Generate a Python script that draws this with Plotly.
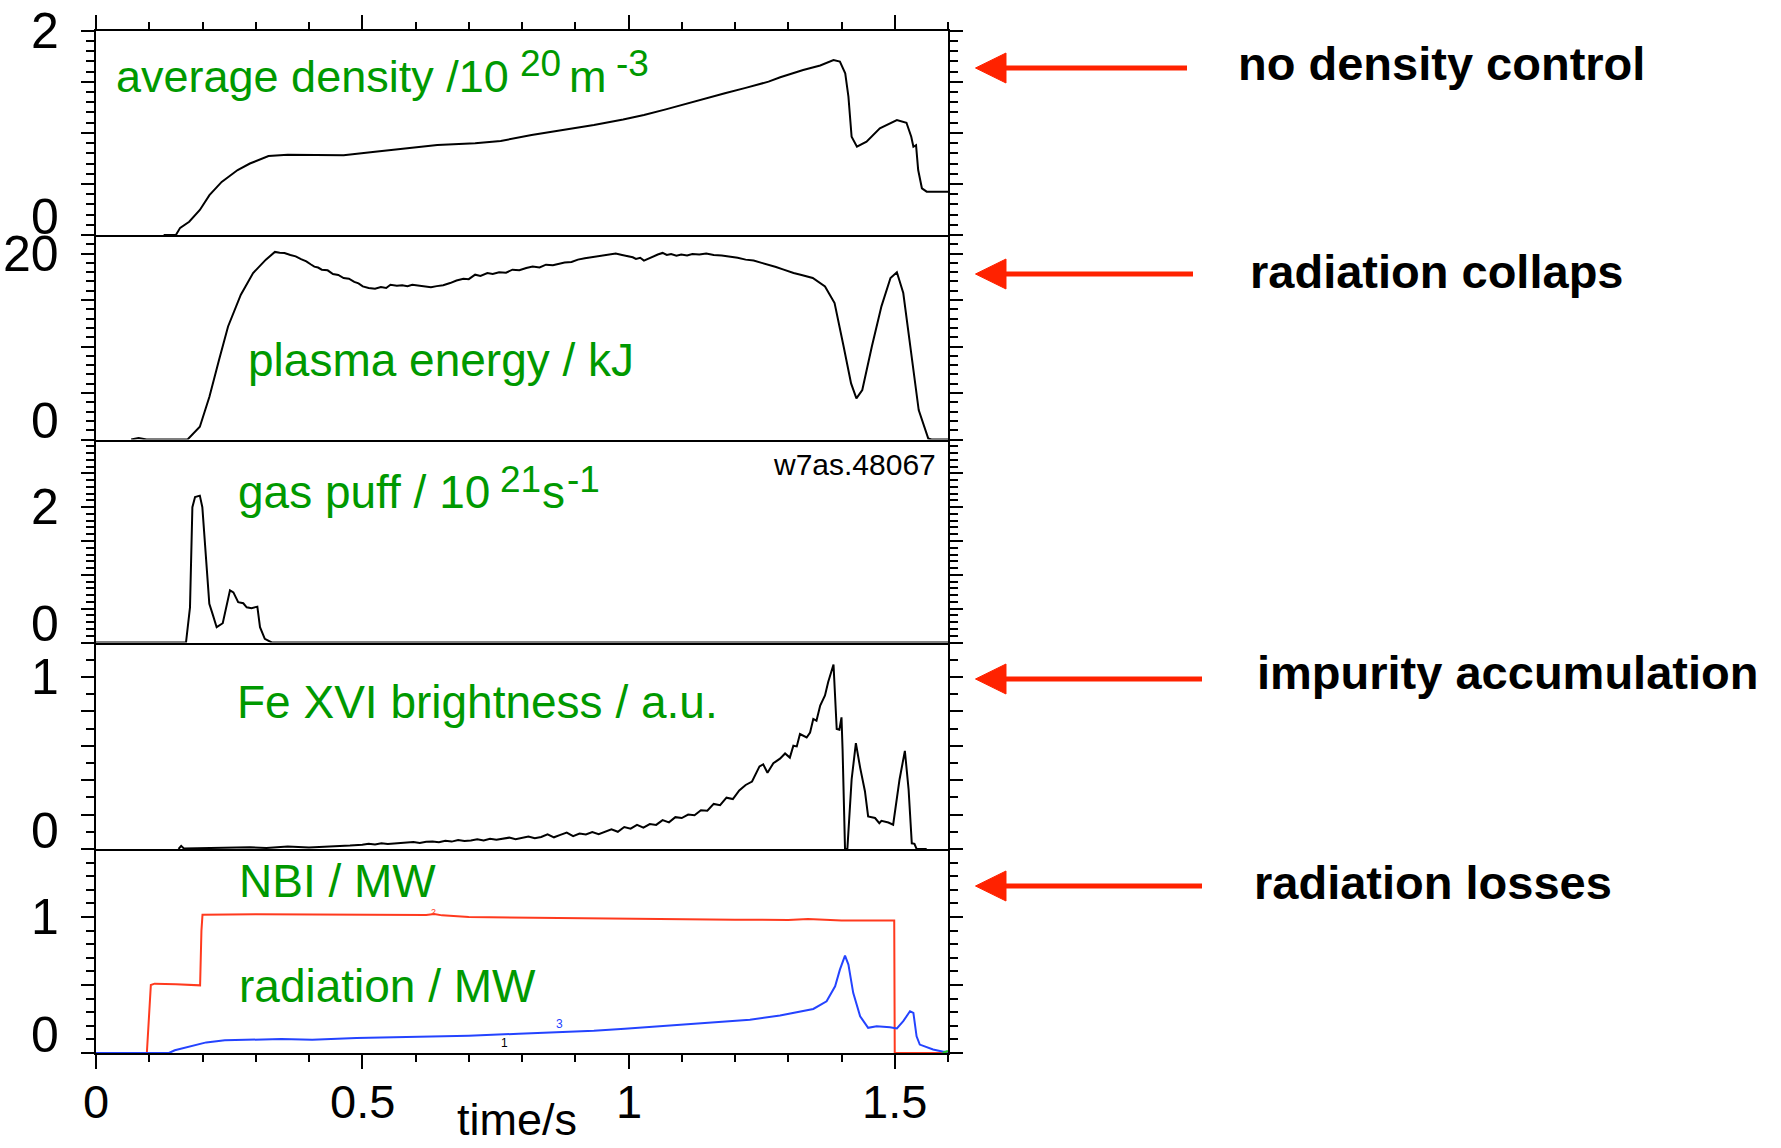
import plotly.graph_objects as go

# ---------------- figure size (px) ----------------
W, H = 1781, 1148
FONT = "Liberation Sans, Arial, Helvetica, sans-serif"
GREEN = "#009900"
ARROW_RED = "#ff2200"

# ---------------- shared time axis (s) ----------------
T_RANGE = [0.0, 1.6]
t_tick_vals = [0, 0.5, 1, 1.5]
t_tick_text = ["0", "0.5", "1", "1.5"]

# ---------------- average density / 1e20 m^-3 ----------------
dens_t = [0.127, 0.150, 0.158, 0.166, 0.175, 0.195, 0.213, 0.236, 0.266, 0.289,
          0.324, 0.360, 0.406, 0.465, 0.524, 0.580, 0.641, 0.712, 0.760, 0.818,
          0.880, 0.935, 0.990, 1.029, 1.070, 1.111, 1.150, 1.181, 1.220, 1.263,
          1.285, 1.300, 1.328, 1.360, 1.385, 1.397, 1.407, 1.413, 1.419, 1.429,
          1.447, 1.472, 1.504, 1.522, 1.531, 1.535, 1.540, 1.544, 1.551, 1.560,
          1.600]
dens_v = [0.0, 0.0, 0.07, 0.10, 0.13, 0.245, 0.39, 0.52, 0.636, 0.70,
          0.773, 0.785, 0.783, 0.78, 0.816, 0.85, 0.88, 0.897, 0.92, 0.979,
          1.03, 1.077, 1.13, 1.174, 1.23, 1.289, 1.35, 1.387, 1.44, 1.501,
          1.544, 1.57, 1.615, 1.66, 1.713, 1.697, 1.583, 1.354, 0.962, 0.864,
          0.913, 1.044, 1.126, 1.099, 0.962, 0.864, 0.88, 0.636, 0.457, 0.424,
          0.424]

# ---------------- plasma energy / kJ ----------------
wp_t = [0.066, 0.080, 0.095, 0.110, 0.172, 0.195, 0.213, 0.231, 0.248, 0.272,
        0.295, 0.319, 0.336, 0.345, 0.354, 0.365, 0.375, 0.385, 0.395, 0.403,
        0.410, 0.417, 0.424, 0.435, 0.445, 0.455, 0.465, 0.475, 0.485, 0.493,
        0.501, 0.512, 0.524, 0.535, 0.545, 0.553, 0.565, 0.575, 0.585, 0.594,
        0.605, 0.617, 0.629, 0.640, 0.652, 0.665, 0.677, 0.690, 0.700, 0.712,
        0.722, 0.735, 0.745, 0.757, 0.770, 0.782, 0.795, 0.808, 0.820, 0.833,
        0.845, 0.858, 0.870, 0.880, 0.893, 0.905, 0.918, 0.930, 0.945, 0.960,
        0.976, 0.988, 0.999, 1.008, 1.014, 1.022, 1.029, 1.037, 1.045, 1.055,
        1.064, 1.072, 1.080, 1.090, 1.099, 1.110, 1.120, 1.133, 1.146, 1.160,
        1.175, 1.190, 1.205, 1.220, 1.235, 1.250, 1.263, 1.277, 1.290, 1.300,
        1.310, 1.325, 1.346, 1.369, 1.387, 1.404, 1.418, 1.428, 1.439, 1.457,
        1.475, 1.492, 1.504, 1.516, 1.531, 1.545, 1.563, 1.569, 1.600]
wp_v = [0.0, 0.15, 0.0, 0.0, 0.0, 1.37, 4.6, 8.56, 12.16, 15.58,
        17.9, 19.35, 20.18, 20.1, 20.07, 19.85, 19.7, 19.4, 19.17, 18.85,
        18.6, 18.5, 18.27, 18.2, 17.8, 17.7, 17.37, 17.3, 16.95, 16.8,
        16.47, 16.3, 16.22, 16.4, 16.3, 16.65, 16.55, 16.6, 16.5, 16.65,
        16.55, 16.45, 16.37, 16.5, 16.6, 16.83, 17.1, 17.3, 17.25, 17.73,
        17.6, 17.9, 17.8, 18.0, 17.95, 18.27, 18.2, 18.45, 18.6, 18.5,
        18.81, 18.75, 18.95, 19.05, 19.1, 19.35, 19.5, 19.6, 19.75, 19.8,
        20.0, 19.85, 19.71, 19.6, 19.42, 19.55, 19.24, 19.45, 19.7, 19.9,
        20.07, 19.85, 19.95, 19.78, 19.9, 19.8, 19.95, 19.9, 20.0, 19.85,
        19.8, 19.7, 19.55, 19.35, 19.25, 19.0, 18.81, 18.55, 18.3, 18.1,
        17.91, 17.7, 17.37, 16.47, 14.68, 10.0, 6.04, 4.42, 5.32, 10.0,
        14.32, 17.37, 17.99, 15.76, 9.28, 3.17, 0.1, 0.0, 0.0]

# ---------------- gas puff / 1e21 s^-1 ----------------
gas_t = [0.0, 0.169, 0.1765, 0.181, 0.186, 0.195, 0.1997, 0.2066, 0.2128, 0.219,
         0.2266, 0.238, 0.2516, 0.258, 0.267, 0.2766, 0.283, 0.292, 0.303, 0.308,
         0.317, 0.330, 1.6]
gas_v = [0.0, 0.0, 0.52, 2.0, 2.15, 2.17, 2.0, 1.26, 0.57, 0.42,
         0.226, 0.285, 0.77, 0.74, 0.595, 0.58, 0.52, 0.507, 0.53, 0.226,
         0.055, 0.0, 0.0]

# ---------------- Fe XVI brightness / a.u. ----------------
fe_t = [0.155, 0.160, 0.165, 0.200, 0.250, 0.289, 0.320, 0.360, 0.400, 0.430,
        0.460, 0.477, 0.500, 0.512, 0.524, 0.536, 0.548, 0.560, 0.572, 0.584,
        0.596, 0.608, 0.620, 0.632, 0.644, 0.656, 0.668, 0.680, 0.692, 0.704,
        0.716, 0.728, 0.740, 0.752, 0.764, 0.776, 0.788, 0.800, 0.812, 0.824,
        0.836, 0.848, 0.860, 0.872, 0.884, 0.896, 0.908, 0.920, 0.932, 0.944,
        0.956, 0.968, 0.980, 0.992, 1.004, 1.016, 1.028, 1.040, 1.052, 1.064,
        1.076, 1.088, 1.100, 1.112, 1.124, 1.136, 1.148, 1.160, 1.172, 1.184,
        1.196, 1.208, 1.220, 1.232, 1.246, 1.253, 1.261, 1.272, 1.2845, 1.294,
        1.303, 1.3096, 1.316, 1.322, 1.3346, 1.341, 1.347, 1.353, 1.360, 1.369,
        1.375, 1.385, 1.391, 1.396, 1.400, 1.402, 1.4066, 1.411, 1.419, 1.427,
        1.435, 1.444, 1.450, 1.463, 1.471, 1.475, 1.488, 1.497, 1.509, 1.519,
        1.526, 1.532, 1.537, 1.541, 1.560]
fe_v = [0.0, 0.018, 0.003, 0.004, 0.006, 0.010, 0.006, 0.014, 0.009, 0.012,
        0.016, 0.020, 0.025, 0.030, 0.026, 0.033, 0.029, 0.031, 0.036, 0.034,
        0.040, 0.035, 0.042, 0.044, 0.039, 0.048, 0.043, 0.052, 0.046, 0.049,
        0.056, 0.050, 0.060, 0.054, 0.058, 0.066, 0.057, 0.063, 0.072, 0.062,
        0.070, 0.085, 0.068, 0.082, 0.095, 0.075, 0.090, 0.084, 0.098, 0.086,
        0.102, 0.115, 0.100, 0.128, 0.118, 0.140, 0.124, 0.145, 0.140, 0.168,
        0.155, 0.185, 0.180, 0.200, 0.196, 0.225, 0.222, 0.262, 0.255, 0.298,
        0.290, 0.340, 0.372, 0.392, 0.480, 0.492, 0.443, 0.498, 0.525, 0.555,
        0.531, 0.600, 0.596, 0.668, 0.648, 0.677, 0.756, 0.746, 0.834, 0.892,
        0.971, 1.072, 0.697, 0.693, 0.765, 0.580, 0.0, 0.0, 0.404, 0.615,
        0.473, 0.336, 0.189, 0.180, 0.150, 0.164, 0.154, 0.141, 0.404, 0.570,
        0.346, 0.033, 0.030, 0.0, 0.0]

# ---------------- NBI heating power / MW ----------------
nbi_t = [0.0, 0.0955, 0.103, 0.110, 0.150, 0.1955, 0.198, 0.200, 0.300, 0.400,
         0.500, 0.620, 0.635, 0.650, 0.700, 0.800, 0.900, 1.000, 1.100, 1.200,
         1.300, 1.337, 1.400, 1.499, 1.500, 1.600]
nbi_v = [0.0, 0.0, 0.50, 0.51, 0.505, 0.4975, 0.90, 1.017, 1.02, 1.02,
         1.02, 1.015, 1.022, 1.012, 1.0, 0.995, 0.99, 0.985, 0.982, 0.98,
         0.978, 0.985, 0.975, 0.975, 0.0, 0.0]

# ---------------- radiated power / MW ----------------
rad_t = [0.0, 0.137, 0.148, 0.172, 0.207, 0.242, 0.289, 0.348, 0.406, 0.489,
         0.583, 0.700, 0.794, 0.876, 0.935, 0.993, 1.052, 1.111, 1.169, 1.228,
         1.2845, 1.3096, 1.347, 1.372, 1.388, 1.397, 1.4066, 1.413, 1.422, 1.435,
         1.450, 1.466, 1.491, 1.504, 1.516, 1.5286, 1.535, 1.541, 1.547, 1.572,
         1.591, 1.600]
rad_v = [0.0, 0.0, 0.02, 0.044, 0.078, 0.093, 0.098, 0.103, 0.098, 0.11,
         0.118, 0.127, 0.142, 0.152, 0.164, 0.179, 0.196, 0.216, 0.228, 0.245,
         0.275, 0.295, 0.324, 0.38, 0.49, 0.613, 0.716, 0.65, 0.442, 0.27,
         0.185, 0.197, 0.19, 0.18, 0.234, 0.307, 0.295, 0.123, 0.062, 0.026,
         0.01, 0.01]

# short trailing segment of the third channel
tail_t = [1.590, 1.600]
tail_v = [0.0, 0.015]

# ---------------- per-panel axis settings ----------------
y_ranges = [[0, 2], [0, 22], [0, 3], [0, 1.2], [0, 1.5]]
y_major = [0.5, 5, 0.5, 0.2, 0.5]
y_minor = [0.1, 1, 0.1, 0.1, 0.1]
y_top_label = [(2, "2"), (20, "20"), (2, "2"), (1, "1"), (1, "1")]

# panel titles: (text, left px, baseline px, font size)
title_parts = [
    ("average density /10", 115, 93, 45),
    ("20", 519, 77, 37),
    ("m", 568, 93, 45),
    ("-3", 615, 77, 37),
    ("plasma energy / kJ", 247, 377, 46),
    ("gas puff / 10", 237, 509, 46),
    ("21", 499, 493, 37),
    ("s", 541, 509, 46),
    ("-1", 566, 493, 37),
    ("Fe XVI brightness / a.u.", 236, 719, 46),
    ("NBI / MW", 238, 898, 46),
    ("radiation / MW", 238, 1003, 46),
]

side_notes = ["no density control", "radiation collaps",
              "impurity accumulation", "radiation losses"]

# ---------------- pixel layout helpers ----------------
PLOT_L, PLOT_R = 96, 948
EDGES = [30.7, 235, 439.5, 642.5, 849, 1053]


def px(x):
    return x / W


def py(y):
    return 1 - y / H


fig = go.Figure()

ax_names = ["", "2", "3", "4", "5"]
series = [
    (0, dens_t, dens_v, "black"),
    (1, wp_t, wp_v, "black"),
    (2, gas_t, gas_v, "black"),
    (3, fe_t, fe_v, "black"),
    (4, nbi_t, nbi_v, "#ff3a1e"),
    (4, rad_t, rad_v, "#2443ff"),
    (4, tail_t, tail_v, "#22cc22"),
]
for k, t, v, c in series:
    n = ax_names[k]
    fig.add_trace(go.Scatter(x=t, y=v, mode="lines", xaxis="x" + n, yaxis="y" + n,
                             line=dict(color=c, width=2), hoverinfo="skip"))

tick_style = dict(tickcolor="black", tickwidth=2)
layout_axes = {}
for i in range(5):
    n = ax_names[i]
    xa = dict(domain=[px(PLOT_L), px(PLOT_R)], range=T_RANGE, anchor="y" + n,
              showline=True, linecolor="black", linewidth=2, showgrid=False,
              zeroline=False, showticklabels=False, ticks="")
    if i in (0, 4):
        xa.update(ticks="outside", tickmode="linear", tick0=0, dtick=0.5, ticklen=14,
                  minor=dict(ticks="outside", tickmode="linear", tick0=0, dtick=0.1,
                             ticklen=7, **tick_style), **tick_style)
    if i == 0:
        xa.update(side="top", mirror=True)
    ya = dict(domain=[py(EDGES[i + 1]), py(EDGES[i])], range=y_ranges[i],
              anchor="x" + n, showline=True, mirror="ticks", linecolor="black",
              linewidth=2, ticks="outside", tickmode="linear", tick0=0,
              dtick=y_major[i], ticklen=13,
              minor=dict(ticks="outside", tickmode="linear", tick0=0, dtick=y_minor[i],
                         ticklen=8, **tick_style),
              showticklabels=False, showgrid=False, zeroline=False, **tick_style)
    layout_axes["xaxis" + n] = xa
    layout_axes["yaxis" + n] = ya

ann = []
# y tick labels
for i, (val, txt) in enumerate(y_top_label):
    n = ax_names[i]
    ann.append(dict(x=px(60), xref="paper", y=val, yref="y" + n, text=txt,
                    xanchor="right", yanchor="middle", showarrow=False, borderpad=0,
                    font=dict(family=FONT, size=50, color="black")))
    ann.append(dict(x=px(60), xref="paper", y=0, yref="y" + n, text="0",
                    xanchor="right", yanchor="bottom", yshift=-10.5, showarrow=False,
                    borderpad=0, font=dict(family=FONT, size=50, color="black")))
# time tick labels
for val, txt in zip(t_tick_vals, t_tick_text):
    ann.append(dict(x=val, xref="x5", y=py(1073), yref="paper", text=txt,
                    xanchor="center", yanchor="top", showarrow=False,
                    font=dict(family=FONT, size=47, color="black")))
ann.append(dict(x=0.79, xref="x5", y=py(1147), yref="paper", text="time/s",
                xanchor="center", yanchor="bottom", showarrow=False,
                font=dict(family=FONT, size=45, color="black")))

# panel titles (green), superscripts set in a smaller size
for txt, x0, base, size in title_parts:
    ann.append(dict(x=px(x0), xref="paper", y=py(base + 0.212 * size), yref="paper",
                    text=txt, xanchor="left", yanchor="bottom", showarrow=False,
                    borderpad=0, font=dict(family=FONT, size=size, color=GREEN)))

# shot number
ann.append(dict(x=px(938), xref="paper", y=py(446), yref="paper", text="w7as.48067",
                xanchor="right", yanchor="top", showarrow=False,
                font=dict(family=FONT, size=30, color="black")))

# curve identifiers in the bottom panel
ann.append(dict(x=0.633, xref="x5", y=1.035, yref="y5", text="2", showarrow=False,
                borderpad=0, font=dict(family=FONT, size=9, color="#ff3a1e")))
ann.append(dict(x=0.870, xref="x5", y=0.215, yref="y5", text="3", showarrow=False,
                borderpad=0, font=dict(family=FONT, size=12, color="#2443ff")))
ann.append(dict(x=0.768, xref="x5", y=0.075, yref="y5", text="1", showarrow=False,
                borderpad=0, font=dict(family=FONT, size=12, color="black")))

# side notes with arrows
note_x = [1236, 1248, 1255, 1252]
note_base = [81, 289, 689.5, 899.5]
arrow_y = [68, 274, 679, 886]
arrow_tail = [1187, 1193, 1202, 1202]
ARROW_TIP, ARROW_NECK, ARROW_HALF = 975.5, 1006, 15

shapes = []
for txt, x0, base, ay, tail in zip(side_notes, note_x, note_base, arrow_y, arrow_tail):
    ann.append(dict(x=px(x0), xref="paper", y=py(base + 11), yref="paper",
                    text="<b>" + txt + "</b>", xanchor="left", yanchor="bottom",
                    showarrow=False, font=dict(family=FONT, size=47, color="black")))
    shapes.append(dict(type="line", xref="paper", yref="paper",
                       x0=px(ARROW_NECK - 1), x1=px(tail), y0=py(ay), y1=py(ay),
                       line=dict(color=ARROW_RED, width=5)))
    path = "M {:.5f},{:.5f} L {:.5f},{:.5f} L {:.5f},{:.5f} Z".format(
        px(ARROW_TIP), py(ay), px(ARROW_NECK), py(ay - ARROW_HALF),
        px(ARROW_NECK), py(ay + ARROW_HALF))
    shapes.append(dict(type="path", xref="paper", yref="paper", path=path,
                       fillcolor=ARROW_RED, line=dict(color=ARROW_RED, width=1)))

fig.update_layout(
    width=W, height=H, margin=dict(l=0, r=0, t=0, b=0, pad=0),
    paper_bgcolor="white", plot_bgcolor="white", showlegend=False,
    annotations=ann, shapes=shapes, **layout_axes,
)

fig.write_html("out.html", config={"displayModeBar": False},
               post_script="document.body.style.margin='0';")
